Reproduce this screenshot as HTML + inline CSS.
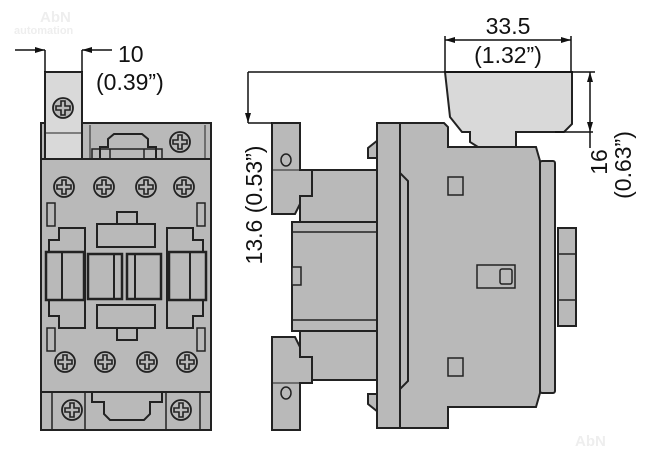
<!DOCTYPE html>
<html><head><style>
html,body{margin:0;padding:0;background:#fff;}
svg{display:block;}
text{font-family:"Liberation Sans",sans-serif;fill:#111;}
</style></head><body>
<svg width="647" height="466" viewBox="0 0 647 466" xmlns="http://www.w3.org/2000/svg">
<defs>
<g id="sc"><circle r="10" fill="#b9b9b9" stroke="#222" stroke-width="1.8"/><path d="M-2,-7 h4 v5 h5 v4 h-5 v5 h-4 v-5 h-5 v-4 h5z" fill="none" stroke="#222" stroke-width="1.6"/></g>
<marker id="ar" viewBox="0 0 10 6" refX="10" refY="3" markerWidth="10" markerHeight="6" orient="auto" markerUnits="userSpaceOnUse"><path d="M0,0 L10,3 L0,6z" fill="#111"/></marker>
</defs>
<text x="40" y="22" font-size="15" font-weight="bold" style="fill:#eee">AbN</text>
<text x="14" y="34" font-size="11" font-weight="bold" style="fill:#eee">automation</text>
<text x="575" y="446" font-size="15" font-weight="bold" style="fill:#eee">AbN</text>

<g stroke="#222" stroke-width="2" fill="#b9b9b9">
<rect x="41" y="123" width="170" height="307"/>
<line x1="41" y1="159" x2="211" y2="159"/>
<line x1="41" y1="392" x2="211" y2="392"/>
<rect x="45" y="72" width="37" height="87" fill="#d9d9d9"/>
<line x1="45" y1="133" x2="82" y2="133" stroke-width="1"/>
<path d="M100,159 v-12 h8 v-8 l6,-5 h28 l6,5 v8 h8 v12" fill="none"/>
<path d="M92,159 v-10 h70 v10 M110,149 v10 M144,149 v10" fill="none" stroke-width="1.5"/>
<line x1="90" y1="125" x2="90" y2="159" stroke-width="1"/>
<line x1="205" y1="125" x2="205" y2="159" stroke-width="1"/>
<use href="#sc" x="63" y="108"/>
<use href="#sc" x="180" y="142"/>
<use href="#sc" x="64" y="187"/><use href="#sc" x="104" y="187"/><use href="#sc" x="146" y="187"/><use href="#sc" x="184" y="187"/>
<use href="#sc" x="65" y="362"/><use href="#sc" x="105" y="362"/><use href="#sc" x="147" y="362"/><use href="#sc" x="187" y="362"/>
<rect x="47" y="203" width="8" height="23" stroke-width="1.5"/>
<rect x="197" y="203" width="8" height="23" stroke-width="1.5"/>
<rect x="47" y="328" width="8" height="23" stroke-width="1.5"/>
<rect x="197" y="328" width="8" height="23" stroke-width="1.5"/>
<rect x="117" y="212" width="20" height="12"/>
<rect x="97" y="224" width="58" height="23"/>
<rect x="97" y="305" width="58" height="23"/>
<rect x="117" y="328" width="20" height="12"/>
<path d="M49,252 v-12 h10 v-12 h26 v100 h-26 v-12 h-10z"/>
<path d="M203,252 v-12 h-10 v-12 h-26 v100 h26 v-12 h10z"/>
<rect x="46" y="252" width="38" height="48" stroke-width="2.5"/>
<line x1="62" y1="252" x2="62" y2="300"/>
<rect x="88" y="254" width="34" height="45" stroke-width="2.5"/>
<line x1="114" y1="254" x2="114" y2="299"/>
<rect x="127" y="254" width="34" height="45" stroke-width="2.5"/>
<line x1="135" y1="254" x2="135" y2="299"/>
<rect x="169" y="252" width="37" height="48" stroke-width="2.5"/>
<line x1="190" y1="252" x2="190" y2="300"/>
<path d="M92,392 v10 h12 v12 l6,6 h34 l6,-6 v-12 h12 v-10" fill="none"/>
<line x1="52" y1="392" x2="52" y2="430" stroke-width="1.5"/>
<line x1="200" y1="392" x2="200" y2="430" stroke-width="1.5"/>
<line x1="85" y1="392" x2="85" y2="430" stroke-width="1.5"/>
<line x1="166" y1="392" x2="166" y2="430" stroke-width="1.5"/>
<use href="#sc" x="72" y="410"/><use href="#sc" x="181" y="410"/>

<!-- SIDE VIEW -->
<rect x="300" y="170" width="77" height="210"/>
<path d="M272,123 h28 v47 h12 v26 h-12 v8 l-5,10 h-23z"/>
<path d="M272,430 h28 v-47 h12 v-26 h-12 v-10 l-5,-10 h-23z"/>
<line x1="272" y1="170" x2="300" y2="170" stroke-width="1"/>
<line x1="272" y1="383" x2="300" y2="383" stroke-width="1"/>
<ellipse cx="286" cy="160" rx="5" ry="6" fill="none" stroke-width="1.5"/>
<ellipse cx="286" cy="393" rx="5" ry="6" fill="none" stroke-width="1.5"/>
<rect x="292" y="222" width="91" height="109"/>
<line x1="292" y1="232" x2="383" y2="232" stroke-width="1.5"/>
<line x1="292" y1="320" x2="383" y2="320" stroke-width="1.5"/>
<rect x="292" y="267" width="9" height="18" stroke-width="1.5"/>
<path d="M378,140 l-10,8 v10 h10z M378,412 l-10,-8 v-10 h10z"/>
<path d="M445,72 h127 v52 l-8,8 h-48 v15 h-38 l-8,-5 v-10 h-8 l-12,-15 z" fill="#d9d9d9"/>
<rect x="377" y="123" width="23" height="305"/>
<path d="M400,123 h44 l4,4 v20 h88 l4,14 v232 l-4,14 h-88 v21 h-48 z"/>
<path d="M400,123 v50 l8,8 v200 l-8,8 v39" fill="none"/>
<rect x="540" y="161" width="15" height="232" rx="2"/>
<rect x="558" y="228" width="18" height="98"/>
<line x1="558" y1="254" x2="576" y2="254" stroke-width="1.5"/>
<line x1="558" y1="300" x2="576" y2="300" stroke-width="1.5"/>
<rect x="448" y="177" width="15" height="18" stroke-width="1.5"/>
<rect x="448" y="358" width="15" height="18" stroke-width="1.5"/>
<rect x="477" y="265" width="38" height="23" stroke-width="1.5"/>
<rect x="500" y="269" width="12" height="15" rx="2" stroke-width="1.5"/>
</g>

<g stroke="#111" stroke-width="1.5" fill="none">
<line x1="45" y1="50" x2="45" y2="72"/><line x1="82" y1="50" x2="82" y2="72"/>
<line x1="15" y1="50" x2="45" y2="50" marker-end="url(#ar)"/>
<line x1="112" y1="50" x2="82" y2="50" marker-end="url(#ar)"/>
<line x1="248" y1="72" x2="595" y2="72"/>
<line x1="248" y1="72" x2="248" y2="123" marker-end="url(#ar)"/>
<line x1="248" y1="123" x2="272" y2="123"/>
<line x1="445" y1="36" x2="445" y2="72"/><line x1="571" y1="36" x2="571" y2="72"/>
<line x1="508" y1="40" x2="445" y2="40" marker-end="url(#ar)"/>
<line x1="508" y1="40" x2="571" y2="40" marker-end="url(#ar)"/>
<line x1="590" y1="100" x2="590" y2="72" marker-end="url(#ar)"/>
<line x1="590" y1="100" x2="590" y2="132" marker-end="url(#ar)"/>
<line x1="555" y1="132" x2="593" y2="132"/>
<line x1="590" y1="132" x2="590" y2="148"/>
</g>
<text x="118" y="62" font-size="23">10</text>
<text x="96" y="90" font-size="23">(0.39”)</text>
<text x="508" y="34" font-size="23" text-anchor="middle">33.5</text>
<text x="508" y="63" font-size="23" text-anchor="middle">(1.32”)</text>
<text transform="translate(262,205) rotate(-90)" font-size="23" text-anchor="middle">13.6 (0.53”)</text>
<text transform="translate(607,162) rotate(-90)" font-size="23" text-anchor="middle">16</text>
<text transform="translate(631,165) rotate(-90)" font-size="23" text-anchor="middle">(0.63”)</text>
</svg>
</body></html>
